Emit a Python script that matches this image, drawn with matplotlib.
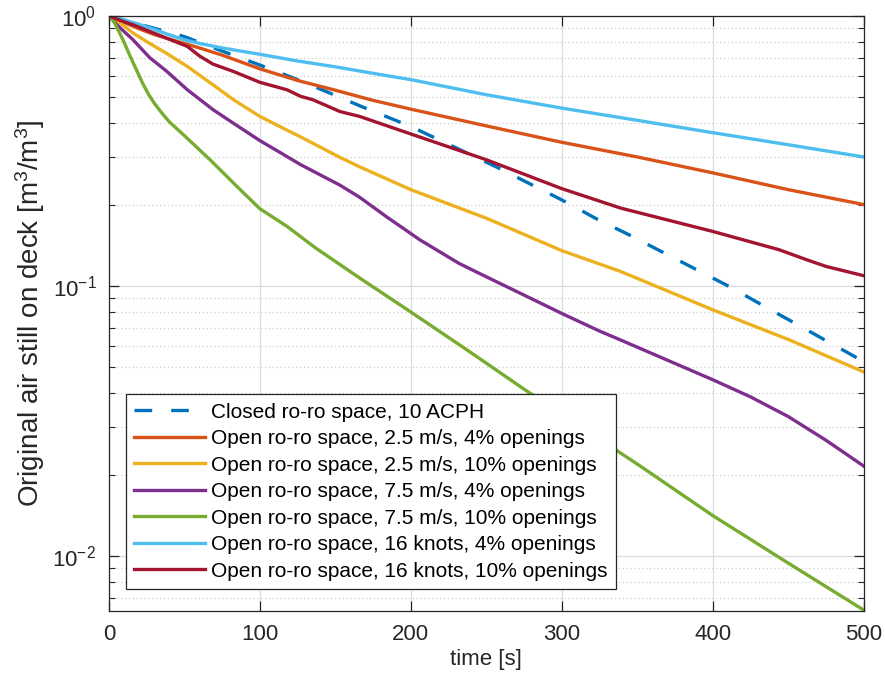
import matplotlib
matplotlib.use("Agg")
import matplotlib.pyplot as plt
import numpy as np
from matplotlib.ticker import LogLocator, NullFormatter, FixedLocator

plt.rcParams['font.family'] = ['Liberation Sans', 'DejaVu Sans']
plt.rcParams['mathtext.fontset'] = 'custom'
plt.rcParams['mathtext.rm'] = 'Liberation Sans'
plt.rcParams['mathtext.it'] = 'Liberation Sans'
plt.rcParams['axes.unicode_minus'] = False

# values (time in s, fraction of original air)
closed_t = [0, 25, 50, 75, 100, 125, 144, 167, 200, 257, 300, 323, 344, 410, 450, 500]
closed_v = [1.0, 0.915, 0.837, 0.74, 0.657, 0.58, 0.524, 0.462, 0.389, 0.275, 0.208, 0.177, 0.155, 0.100, 0.075, 0.0524]

o25_4_t = [0, 5, 10, 20, 30, 40, 50, 60, 75, 100, 125, 150, 175, 200, 250, 300, 350, 400, 450, 500]
o25_4_v = [1.0, 0.97, 0.945, 0.895, 0.852, 0.82, 0.79, 0.76, 0.715, 0.636, 0.576, 0.53, 0.486, 0.451, 0.391, 0.34, 0.30, 0.262, 0.227, 0.20]

o25_10_t = [0, 7.5, 16, 27, 38, 52, 69, 82.5, 100, 118, 127, 153, 166, 200, 250, 300, 339, 400, 450, 500]
o25_10_v = [1.0, 0.94, 0.863, 0.79, 0.727, 0.649, 0.555, 0.489, 0.424, 0.377, 0.356, 0.299, 0.276, 0.227, 0.178, 0.135, 0.113, 0.0815, 0.0633, 0.048]

o75_4_t = [0, 5, 10, 16, 27, 38, 52, 69, 82.5, 100, 118, 127, 153, 166, 184, 206, 232, 250, 281, 300, 325, 339, 400, 425, 450, 475, 500]
o75_4_v = [1.0, 0.93, 0.875, 0.815, 0.70, 0.625, 0.532, 0.449, 0.40, 0.345, 0.301, 0.281, 0.236, 0.213, 0.18, 0.148, 0.121, 0.108, 0.089, 0.079, 0.068, 0.063, 0.0449, 0.0388, 0.0328, 0.0268, 0.0215]

o75_10_t = [0, 3, 6, 10, 14, 18, 22, 26, 30, 35, 40, 50, 67, 87, 100, 118, 137, 166, 200, 237, 279, 300, 332, 352, 400, 450, 500]
o75_10_v = [1.0, 0.96, 0.89, 0.80, 0.71, 0.635, 0.568, 0.515, 0.475, 0.437, 0.405, 0.36, 0.293, 0.227, 0.193, 0.166, 0.138, 0.107, 0.080, 0.058, 0.040, 0.034, 0.0255, 0.0215, 0.0141, 0.0094, 0.0063]

k16_4_t = [0, 5, 10, 20, 30, 40, 50, 60, 75, 100, 125, 150, 175, 200, 250, 300, 350, 400, 450, 500]
k16_4_v = [1.0, 0.985, 0.965, 0.93, 0.89, 0.85, 0.815, 0.79, 0.76, 0.72, 0.68, 0.647, 0.612, 0.58, 0.51, 0.455, 0.41, 0.369, 0.333, 0.30]

k16_10_t = [0, 7.5, 16, 27, 38, 52, 60, 69, 82.5, 100, 118, 127, 135, 153, 166, 200, 250, 300, 339, 400, 444, 462, 475, 500]
k16_10_v = [1.0, 0.961, 0.926, 0.875, 0.827, 0.77, 0.71, 0.662, 0.622, 0.567, 0.532, 0.503, 0.489, 0.442, 0.424, 0.365, 0.293, 0.229, 0.194, 0.159, 0.136, 0.125, 0.118, 0.109]

labels = [
    "Closed ro-ro space, 10 ACPH",
    "Open ro-ro space, 2.5 m/s, 4% openings",
    "Open ro-ro space, 2.5 m/s, 10% openings",
    "Open ro-ro space, 7.5 m/s, 4% openings",
    "Open ro-ro space, 7.5 m/s, 10% openings",
    "Open ro-ro space, 16 knots, 4% openings",
    "Open ro-ro space, 16 knots, 10% openings",
]
colors = ["#0072BD", "#D95319", "#EDB120", "#7E2F8E", "#77AC30", "#4DBEEE", "#A2142F"]

series = [(closed_t, closed_v), (o25_4_t, o25_4_v), (o25_10_t, o25_10_v),
          (o75_4_t, o75_4_v), (o75_10_t, o75_10_v), (k16_4_t, k16_4_v),
          (k16_10_t, k16_10_v)]

fig = plt.figure(figsize=(8.85, 6.85), dpi=100)
ax = fig.add_axes([0.123, 0.108, 0.853, 0.869])

for i in range(len(series)):
    t, v = series[i]
    if i == 0:
        ax.plot(t, v, color=colors[i], lw=2.4, dashes=(5.3, 5.7), label=labels[i])
    else:
        ax.plot(t, v, color=colors[i], lw=2.4, label=labels[i])

ax.set_yscale("log")
ax.set_xlim(0, 500)
ax.set_ylim(0.00625, 1)
ax.xaxis.set_major_locator(FixedLocator([0, 100, 200, 300, 400, 500]))
ax.yaxis.set_major_locator(LogLocator(base=10))
ax.yaxis.set_minor_locator(LogLocator(base=10, subs=np.arange(2, 10)))
ax.yaxis.set_minor_formatter(NullFormatter())

ax.grid(True, which="major", color="#dcdcdc", lw=0.9)
ax.grid(True, which="minor", axis="y", color="#c8c8c8", lw=0.8, ls=(0, (1, 2.5)))
ax.set_axisbelow(True)

ax.tick_params(which="both", direction="in", top=True, right=True, colors="#262626",
               labelcolor="#262626", labelsize=16)
ax.tick_params(which="major", length=7, width=0.9, pad=9)
ax.tick_params(which="minor", length=4, width=0.8)
for s in ax.spines.values():
    s.set_color("#262626")
    s.set_linewidth(0.9)

ax.set_xlabel("time [s]", fontsize=16, color="#262626", labelpad=3)
ax.set_ylabel("Original air still on deck [m$^3$/m$^3$]", fontsize=20, color="#262626", labelpad=4)

leg = ax.legend(loc="lower left", bbox_to_anchor=(0.0225, 0.037), borderaxespad=0,
                fancybox=False, framealpha=1, edgecolor="#262626", handlelength=3.4,
                labelspacing=0.36, handletextpad=0.3, borderpad=0.4,
                prop={"family": "Liberation Sans", "size": 15})
leg.get_frame().set_linewidth(0.9)

fig.savefig("out.png", dpi=100)
